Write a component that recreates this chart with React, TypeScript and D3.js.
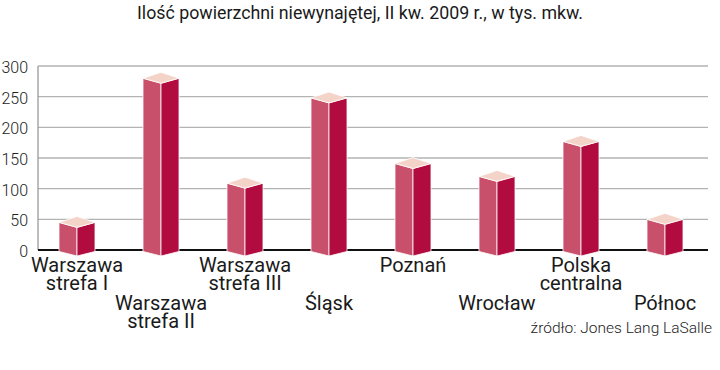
import React from "react";
import * as d3 from "d3";

const categories = ["Warszawa strefa I", "Warszawa strefa II", "Warszawa strefa III", "Śląsk", "Poznań", "Wrocław", "Polska centralna", "Północ"];
const labelLines = [["Warszawa", "strefa I"], ["Warszawa", "strefa II"], ["Warszawa", "strefa III"], ["Śląsk"], ["Poznań"], ["Wrocław"], ["Polska", "centralna"], ["Północ"]];
const values = [45, 280, 109, 248, 141, 120, 177, 50];
const yTicks = [0, 50, 100, 150, 200, 250, 300];
const title = "Ilość powierzchni niewynajętej, II kw. 2009 r., w tys. mkw.";
const source = "źródło: Jones Lang LaSalle";

const W = 720, H = 370;
const FONT = "Roboto, 'Noto Sans', sans-serif";

export default function App() {
  const x = d3.scaleBand<string>().domain(categories).range([35, 707]).padding(0);
  const y = d3.scaleLinear().domain([0, 300]).range([250, 66]);
  const half = 18, dF = 5, dB = 6;
  const base = y(0);

  return (
    <svg width={W} height={H} style={{ position: "absolute", left: 0, top: 0, background: "#fff" }}>
      <text x={360} y={19} textAnchor="middle" fontFamily={FONT} fontSize={17.8} fill="#1a1a1a">{title}</text>
      {yTicks.map(t => (
        <g key={t}>
          {t > 0 && <line x1={38} x2={708} y1={y(t)} y2={y(t)} stroke="#b3b3b3" strokeWidth={1.3} />}
          <text x={28} y={y(t) + 7} textAnchor="end" fontFamily={FONT} fontWeight={300} fontSize={16} fill="#222">{t}</text>
        </g>
      ))}
      <line x1={38} x2={38} y1={y(300)} y2={base} stroke="#9a9a9a" strokeWidth={1.3} />
      <line x1={38} x2={708} y1={base} y2={base} stroke="#111" strokeWidth={2} />
      {values.map((v, i) => {
        const c = (x(categories[i]) as number) + x.bandwidth() / 2;
        const yt = y(v);
        const l = c - half, r = c + half;
        const bs = base + 1.5, bc = base + 6;
        return (
          <g key={i} stroke="#fff" strokeWidth={0.8} strokeLinejoin="round">
            <polygon points={`${l},${yt} ${c},${yt + dF} ${c},${bc} ${l},${bs}`} fill="#c8506a" />
            <polygon points={`${c},${yt + dF} ${r},${yt} ${r},${bs} ${c},${bc}`} fill="#b20b40" />
            <polygon points={`${l},${yt} ${c},${yt - dB} ${r},${yt} ${c},${yt + dF}`} fill="#f4d4c8" />
          </g>
        );
      })}
      {labelLines.map((lines, i) => {
        const c = (x(categories[i]) as number) + x.bandwidth() / 2;
        const y0 = i % 2 === 0 ? 272 : 310;
        return (
          <text key={i} textAnchor="middle" fontFamily={FONT} fontSize={20} fill="#1a1a1a">
            {lines.map((s, k) => (
              <tspan key={k} x={c} y={y0 + k * 17.5}>{s}</tspan>
            ))}
          </text>
        );
      })}
      <text x={712} y={333} textAnchor="end" fontFamily={FONT} fontWeight={300} fontSize={15.5} fill="#222">{source}</text>
    </svg>
  );
}
